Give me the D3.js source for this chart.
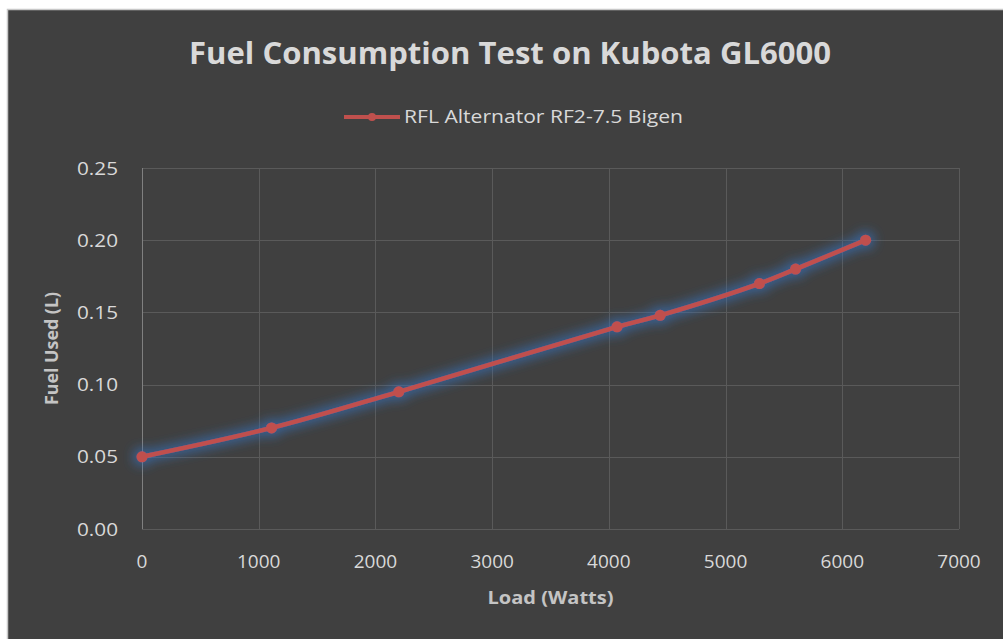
<!DOCTYPE html>
<html>
<head>
<meta charset="utf-8">
<script src="https://cdn.jsdelivr.net/npm/d3@7"></script>
<style>
  body { margin: 0; background: #ffffff; }
  text { font-family: "Open Sans", "Noto Sans", sans-serif; }
</style>
</head>
<body>
<div id="chart"></div>
<script>
// Data
var loadWatts = [0, 1110, 2200, 4070, 4440, 5290, 5600, 6200];
var fuelUsed = [0.05, 0.07, 0.095, 0.14, 0.148, 0.17, 0.18, 0.20];
var xTicks = [0, 1000, 2000, 3000, 4000, 5000, 6000, 7000];
var yTicks = [0, 0.05, 0.10, 0.15, 0.20, 0.25];
var seriesName = "RFL Alternator RF2-7.5 Bigen";

var width = 1003, height = 639;

var svg = d3.select("#chart").append("svg")
    .attr("width", width)
    .attr("height", height);

// Glow filter for the series
var defs = svg.append("defs");
var glow = defs.append("filter")
    .attr("id", "glow")
    .attr("x", "-20%").attr("y", "-50%")
    .attr("width", "140%").attr("height", "200%");
glow.append("feMorphology")
    .attr("in", "SourceAlpha").attr("operator", "dilate").attr("radius", 3)
    .attr("result", "fat");
glow.append("feGaussianBlur")
    .attr("in", "fat").attr("stdDeviation", 5.5).attr("result", "blur");
glow.append("feFlood")
    .attr("flood-color", "#3670b8").attr("flood-opacity", 0.7).attr("result", "col");
glow.append("feComposite")
    .attr("in", "col").attr("in2", "blur").attr("operator", "in").attr("result", "halo");
var merge = glow.append("feMerge");
merge.append("feMergeNode").attr("in", "halo");
merge.append("feMergeNode").attr("in", "SourceGraphic");

// Chart background with border
svg.append("rect")
    .attr("x", 7.5).attr("y", 9.5)
    .attr("width", 1010).attr("height", 650)
    .attr("fill", "#404040")
    .attr("stroke", "#c8c8c8")
    .attr("stroke-width", 1.5);

// Plot area edges
var plotLeft = 142, plotRight = 959, plotTop = 168, plotBottom = 529;

var x = d3.scaleLinear().domain([0, 7000]).range([plotLeft, plotRight]);
var y = d3.scaleLinear().domain([0, 0.25]).range([plotBottom, plotTop]);

// Horizontal gridlines
svg.append("g").selectAll("line")
    .data(yTicks)
    .join("line")
    .attr("x1", plotLeft).attr("x2", plotRight)
    .attr("y1", d => Math.round(y(d)) + 0.5)
    .attr("y2", d => Math.round(y(d)) + 0.5)
    .attr("stroke", "#5a5a5a")
    .attr("stroke-width", 1);

// Vertical gridlines
svg.append("g").selectAll("line")
    .data(xTicks.slice(1))
    .join("line")
    .attr("x1", d => Math.round(x(d)) + 0.5)
    .attr("x2", d => Math.round(x(d)) + 0.5)
    .attr("y1", plotTop).attr("y2", plotBottom)
    .attr("stroke", "#5a5a5a")
    .attr("stroke-width", 1);

// Y axis line
svg.append("line")
    .attr("x1", plotLeft + 0.5).attr("x2", plotLeft + 0.5)
    .attr("y1", plotTop).attr("y2", plotBottom)
    .attr("stroke", "#808080")
    .attr("stroke-width", 1);

// Tick labels
svg.append("g").selectAll("text")
    .data(yTicks)
    .join("text")
    .attr("x", 118)
    .attr("y", d => y(d))
    .attr("dy", "0.35em")
    .attr("text-anchor", "end")
    .attr("fill", "#d9d9d9")
    .attr("font-size", 19)
    .attr("textLength", 41)
    .attr("lengthAdjust", "spacingAndGlyphs")
    .text(d => d3.format(".2f")(d));

svg.append("g").selectAll("text")
    .data(xTicks)
    .join("text")
    .attr("x", d => x(d))
    .attr("y", 561)
    .attr("dy", "0.35em")
    .attr("text-anchor", "middle")
    .attr("fill", "#d9d9d9")
    .attr("font-size", 19)
    .text(d => d);

// Axis titles
svg.append("text")
    .attr("x", (plotLeft + plotRight) / 2)
    .attr("y", 598)
    .attr("dy", "0.35em")
    .attr("text-anchor", "middle")
    .attr("fill", "#c4c4c4")
    .attr("font-size", 18)
    .attr("font-weight", "bold")
    .attr("textLength", 126)
    .attr("lengthAdjust", "spacingAndGlyphs")
    .text("Load (Watts)");

svg.append("text")
    .attr("transform", "translate(52," + ((plotTop + plotBottom) / 2) + ") rotate(-90)")
    .attr("dy", "0.35em")
    .attr("text-anchor", "middle")
    .attr("fill", "#c4c4c4")
    .attr("font-size", 18)
    .attr("font-weight", "bold")
    .attr("textLength", 113)
    .attr("lengthAdjust", "spacingAndGlyphs")
    .text("Fuel Used (L)");

// Title
svg.append("text")
    .attr("x", 510)
    .attr("y", 64)
    .attr("text-anchor", "middle")
    .attr("fill", "#d9d9d9")
    .attr("font-size", 31)
    .attr("font-weight", "bold")
    .attr("textLength", 642)
    .attr("lengthAdjust", "spacingAndGlyphs")
    .text("Fuel Consumption Test on Kubota GL6000");

// Legend
var legend = svg.append("g");
legend.append("line")
    .attr("x1", 344).attr("x2", 400)
    .attr("y1", 117).attr("y2", 117)
    .attr("stroke", "#c0504d").attr("stroke-width", 4);
legend.append("circle")
    .attr("cx", 372).attr("cy", 117).attr("r", 4)
    .attr("fill", "#c0504d");
legend.append("text")
    .attr("x", 404).attr("y", 117)
    .attr("dy", "0.35em")
    .attr("fill", "#d9d9d9")
    .attr("font-size", 18)
    .attr("textLength", 279)
    .attr("lengthAdjust", "spacingAndGlyphs")
    .text(seriesName);

// Series
var points = loadWatts.map((d, i) => [d, fuelUsed[i]]);
var series = svg.append("g").attr("filter", "url(#glow)");

var line = d3.line()
    .x(d => x(d[0]))
    .y(d => y(d[1]))
    .curve(d3.curveCatmullRom.alpha(0.5));

series.append("path")
    .datum(points)
    .attr("d", line)
    .attr("fill", "none")
    .attr("stroke", "#c0504d")
    .attr("stroke-width", 4.5)
    .attr("stroke-linecap", "round");

series.selectAll("circle")
    .data(points)
    .join("circle")
    .attr("cx", d => x(d[0]))
    .attr("cy", d => y(d[1]))
    .attr("r", 5.5)
    .attr("fill", "#c0504d");
</script>
</body>
</html>
